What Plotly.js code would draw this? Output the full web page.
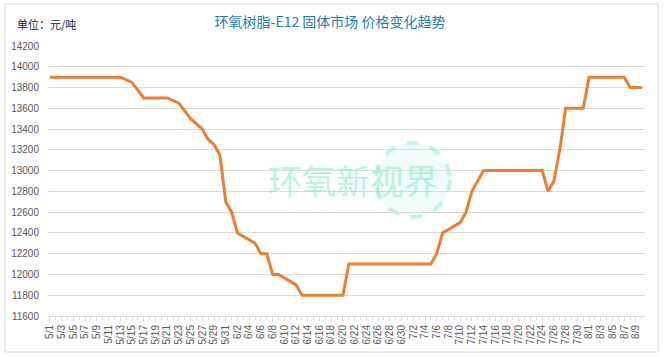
<!DOCTYPE html>
<html>
<head>
<meta charset="utf-8">
<script src="https://cdn.plot.ly/plotly-3.0.1.min.js"></script>
<style>html,body{margin:0;padding:0;background:#fff;}#chart{width:664px;height:357px;}</style>
</head>
<body>
<div id="chart"></div>
<script>
// Observed price points (元/吨), month/day
var pointDates = ['5/1','5/13','5/15','5/17','5/21','5/23','5/25','5/27','5/28','5/29','5/30','5/31',
  '6/1','6/2','6/5','6/6','6/7','6/8','6/9','6/12','6/13','6/20','6/21',
  '7/5','7/6','7/7','7/10','7/11','7/12','7/14','7/24','7/25','7/26','7/27','7/28','7/31',
  '8/1','8/7','8/8','8/10'];
var prices = [13900,13900,13850,13700,13700,13650,13500,13400,13300,13250,13150,12700,
  12600,12400,12300,12200,12200,12000,12000,11900,11800,11800,12100,
  12100,12200,12400,12500,12600,12800,13000,13000,12800,12900,13200,13600,13600,
  13900,13900,13800,13800];
var yTicks = [11600,11800,12000,12200,12400,12600,12800,13000,13200,13400,13600,13800,14000,14200];

var YEAR = 2024;
function toIso(md){
  var p = md.split('/');
  return YEAR + '-' + ('0'+p[0]).slice(-2) + '-' + ('0'+p[1]).slice(-2);
}
var xs = pointDates.map(toIso);

var trace = {
  x: xs, y: prices, type: 'scatter', mode: 'lines',
  line: {color: '#ED7D31', width: 3},
  hoverinfo: 'x+y'
};

var font = 'Noto Sans CJK SC, Noto Sans, sans-serif';
var layout = {
  width: 664, height: 357,
  margin: {l: 48, r: 19, t: 46, b: 41},
  paper_bgcolor: '#ffffff', plot_bgcolor: '#ffffff',
  showlegend: false,
  font: {family: font, color: '#595959', size: 10},
  title: {
    text: '环氧树脂-E12 固体市场 价格变化趋势',
    font: {family: font, size: 14, color: '#1a7db5'},
    x: 0.497, xref: 'container', xanchor: 'center',
    y: 0.938, yref: 'container', yanchor: 'middle'
  },
  xaxis: {
    type: 'date',
    range: [YEAR + '-04-30 16:00', YEAR + '-08-10 13:00'],
    tick0: YEAR + '-05-01', dtick: 2 * 86400000,
    tickformat: '%-m/%-d', tickangle: -90,
    tickfont: {family: 'Liberation Sans, Arial, sans-serif', size: 10, color: '#595959'},
    showgrid: false, zeroline: false,
    showline: true, linecolor: '#d9d9d9', linewidth: 1,
    ticks: 'outside', ticklen: 4, tickcolor: '#d9d9d9',
    minor: {dtick: 86400000, tick0: YEAR + '-05-01', ticks: 'outside', ticklen: 3, tickcolor: '#d9d9d9', showgrid: false}
  },
  yaxis: {
    range: [11600, 14200],
    tickvals: yTicks,
    ticktext: yTicks.map(String),
    tickfont: {family: 'Liberation Sans, Arial, sans-serif', size: 10, color: '#595959'},
    showgrid: true, gridcolor: '#d9d9d9', gridwidth: 1,
    zeroline: false, showline: false, ticks: '', ticklabelstandoff: 8
  },
  shapes: [
    {type: 'rect', xref: 'paper', yref: 'paper', x0: -0.072, x1: 1.0218, y0: -0.1333, y1: 1.1556,
     line: {color: '#d9d9d9', width: 1}, fillcolor: 'rgba(0,0,0,0)', layer: 'below'},
    {type: 'circle', xref: 'paper', yref: 'paper', x0: 0.549, x1: 0.673, y0: 0.367, y1: 0.641,
     line: {color: 'rgba(150,228,220,0.55)', width: 4, dash: 'dash'}, fillcolor: 'rgba(200,245,235,0.25)', layer: 'below'}
  ],
  annotations: [
    {text: '单位：元/吨', xref: 'paper', yref: 'paper', x: -0.0553, y: 1.0815,
     xanchor: 'left', yanchor: 'middle', showarrow: false,
     font: {family: font, size: 11, color: '#222222'}},
    {text: '环氧新视界', xref: 'paper', yref: 'paper', x: 0.511, y: 0.504,
     xanchor: 'center', yanchor: 'middle', showarrow: false,
     font: {family: font, size: 34, color: 'rgba(140,235,205,0.6)'}}
  ]
};

Plotly.newPlot('chart', [trace], layout, {displayModeBar: false, staticPlot: true});
</script>
</body>
</html>
